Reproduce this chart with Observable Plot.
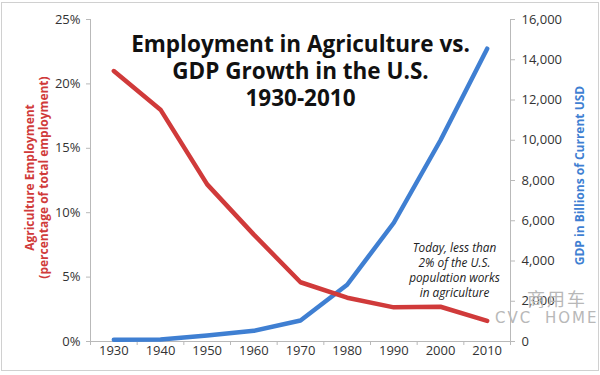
<!DOCTYPE html>
<html>
<head>
<meta charset="utf-8">
<script src="https://cdn.jsdelivr.net/npm/d3@7"></script>
<script src="https://cdn.jsdelivr.net/npm/@observablehq/plot@0.6"></script>
<style>
  body { margin: 0; background: #fff; font-family: "Open Sans", sans-serif; }
  #wrap { position: relative; width: 600px; height: 375px; overflow: hidden; }
  #border { position: absolute; left: 1px; top: 2px; width: 596px; height: 367px; border: 1px solid #d0d0d0; pointer-events: none; }
  .wm { position: absolute; color: #b8b8b8; white-space: nowrap; line-height: 1; }
  #wm1 { left: 527px; top: 289px; font-family: "Noto Sans CJK SC", sans-serif; font-size: 18px; letter-spacing: 2px; }
  #wm2 { left: 495px; top: 311px; font-family: "DejaVu Sans", sans-serif; font-size: 15px; letter-spacing: 2px; word-spacing: 6px; }
</style>
</head>
<body>
<div id="wrap"><div id="border"></div></div>
<script>
// ---- data ----
const years = [1930, 1940, 1950, 1960, 1970, 1980, 1990, 2000, 2010];
const agEmployment = [21.0, 18.0, 12.2, 8.3, 4.6, 3.4, 2.65, 2.7, 1.6];      // % of total employment
const gdpBillions = [90, 100, 300, 530, 1040, 2820, 5900, 10000, 14550];     // billions of current USD
const leftTicks = [0, 5, 10, 15, 20, 25];
const rightTicks = [0, 2000, 4000, 6000, 8000, 10000, 12000, 14000, 16000];
const xBoundaries = [1925, 1935, 1945, 1955, 1965, 1975, 1985, 1995, 2005, 2015];
const titleLines = ["Employment in Agriculture vs.", "GDP Growth in the U.S.", "1930-2010"];
const leftLabel = "Agriculture Employment\n(percentage of total employment)";
const rightLabel = "GDP in Billions of Current USD";
const annotation = { year: 2003, value: 7.8, text: "Today, less than\n2% of the U.S.\npopulation works\nin agriculture" };

const PCT_MAX = 25, GDP_MAX = 16000;
const toPct = v => v * PCT_MAX / GDP_MAX;
const RED = "#d03a3a", BLUE = "#3f7fd2", AXIS = "#b9b9b9", LABEL = "#333";

const emp = years.map((year, i) => ({ year, value: agEmployment[i] }));
const gdp = years.map((year, i) => ({ year, value: toPct(gdpBillions[i]) }));

const chart = Plot.plot({
  width: 600,
  height: 375,
  marginLeft: 90,
  marginRight: 90,
  marginTop: 19,
  marginBottom: 34,
  style: { fontFamily: "Open Sans", background: "transparent", overflow: "visible" },
  x: { domain: [xBoundaries[0], xBoundaries[xBoundaries.length - 1]] },
  y: { domain: [0, PCT_MAX] },
  marks: [
    // axis lines
    Plot.ruleX([xBoundaries[0]], { stroke: AXIS }),
    Plot.ruleX([xBoundaries[xBoundaries.length - 1]], { stroke: AXIS }),
    Plot.ruleY([0], { stroke: AXIS }),
    // left axis
    Plot.axisY(leftTicks, { anchor: "left", tickSize: 4, tickFormat: () => "", color: AXIS, label: null }),
    Plot.axisY(leftTicks, { anchor: "left", tickSize: 0, tickPadding: 10, tickFormat: d => d + "%", color: LABEL, fontSize: 13, label: null }),
    // right axis
    Plot.axisY(rightTicks.map(toPct), { anchor: "right", tickSize: 4, tickFormat: () => "", color: AXIS, label: null }),
    Plot.axisY(rightTicks.map(toPct), { anchor: "right", tickSize: 0, tickPadding: 11, tickFormat: d => d3.format(",")(Math.round(d * GDP_MAX / PCT_MAX)), color: LABEL, fontSize: 13, label: null }),
    // bottom axis
    Plot.axisX(xBoundaries, { anchor: "bottom", tickSize: 4, tickFormat: () => "", color: AXIS, label: null }),
    Plot.axisX(years, { anchor: "bottom", tickSize: 0, tickPadding: 4, tickFormat: d => String(d), color: LABEL, fontSize: 13, label: null }),
    // axis titles
    Plot.text([leftLabel], { text: d => d, frameAnchor: "left", textAnchor: "middle", dx: -54, dy: -3, rotate: -90, lineAnchor: "middle", lineHeight: 1.17, fontSize: 12, fontWeight: "bold", fill: RED }),
    Plot.text([rightLabel], { text: d => d, frameAnchor: "right", textAnchor: "middle", dx: 70, dy: -5, rotate: -90, lineAnchor: "middle", fontSize: 12, fontWeight: "bold", fill: BLUE }),
    // series
    Plot.line(gdp, { x: "year", y: "value", stroke: BLUE, strokeWidth: 4.5, strokeLinejoin: "round" }),
    Plot.line(emp, { x: "year", y: "value", stroke: RED, strokeWidth: 4.5, strokeLinejoin: "round" }),
    // title (one text per line)
    ...titleLines.map((line, i) =>
      Plot.text([line], { text: d => d, frameAnchor: "top", dy: 32 + i * 27, lineAnchor: "bottom", fontSize: 22.5, fontWeight: "bold", fill: "#111" })
    ),
    // annotation
    Plot.text([annotation], { x: d => d.year, y: d => d.value, text: d => d.text, lineAnchor: "top", lineHeight: 1.27, fontSize: 11.8, fontStyle: "italic", fill: "#222" })
  ]
});

const wrap = document.getElementById("wrap");
wrap.insertBefore(chart, wrap.firstChild);
chart.style.position = "absolute";
chart.style.left = "0";
chart.style.top = "0";

const wm1 = document.createElement("div");
wm1.className = "wm"; wm1.id = "wm1"; wm1.textContent = "商用车";
const wm2 = document.createElement("div");
wm2.className = "wm"; wm2.id = "wm2"; wm2.textContent = "CVC HOME";
wrap.appendChild(wm1);
wrap.appendChild(wm2);
</script>
</body>
</html>
